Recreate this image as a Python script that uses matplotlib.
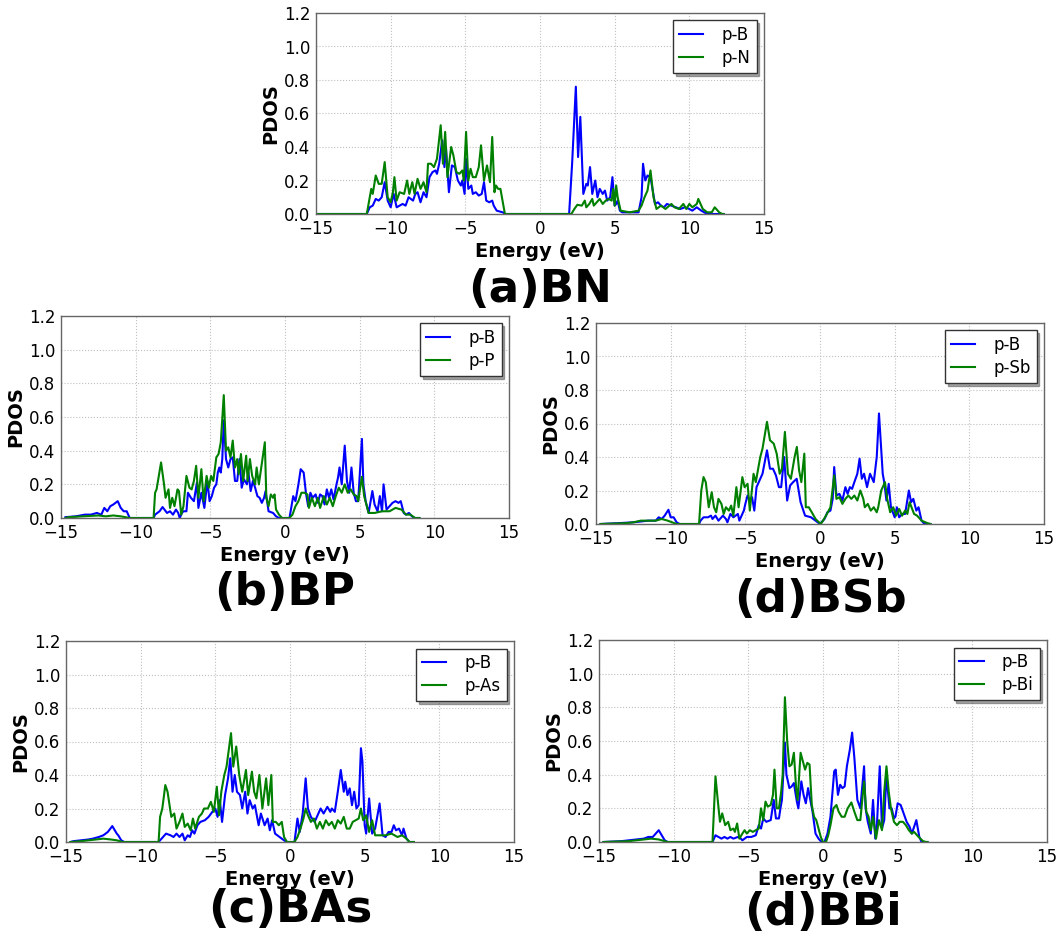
import matplotlib
matplotlib.use("Agg")
import matplotlib.pyplot as plt
import numpy as np

plt.rcParams['font.family'] = ['DejaVu Sans']

# ---------------- data ----------------
# (a) BN
bn_b_e = [-15, -11.6, -11.4, -11.2, -11.0, -10.8, -10.6, -10.4, -10.2, -10.0, -9.8, -9.6, -9.4, -9.2, -9.0, -8.8, -8.65, -8.5,
          -8.35, -8.2, -8.0, -7.8, -7.6, -7.4, -7.2, -7.0, -6.9, -6.75, -6.55, -6.4, -6.3, -6.1, -5.9, -5.7, -5.5, -5.3,
          -5.2, -5.05, -4.95, -4.8, -4.6, -4.5, -4.3, -4.1, -3.9, -3.75, -3.6, -3.4, -3.2, -3.1, -2.9, -2.5, -2.3,
          1.95, 2.15, 2.4, 2.55, 2.7, 2.9, 3.1, 3.2, 3.35, 3.5, 3.7, 3.85, 4.0, 4.2, 4.35, 4.5, 4.7, 4.85, 5.0, 5.1, 5.2, 5.35,
          5.5, 6.0, 6.6, 6.8, 6.9, 7.05, 7.2, 7.4, 7.7, 7.9, 8.1, 8.3, 8.5, 8.8, 9.1, 9.4, 9.7, 10.0, 10.2, 10.5, 10.8, 11.0, 11.2, 12.3]
bn_b_v = [0, 0, 0.04, 0.05, 0.09, 0.08, 0.1, 0.19, 0.08, 0.04, 0.12, 0.04, 0.05, 0.06, 0.05, 0.1, 0.09, 0.08,
          0.12, 0.13, 0.07, 0.13, 0.1, 0.22, 0.25, 0.26, 0.24, 0.3, 0.44, 0.28, 0.4, 0.13, 0.29, 0.28, 0.2, 0.17,
          0.2, 0.12, 0.33, 0.15, 0.17, 0.12, 0.13, 0.11, 0.12, 0.19, 0.08, 0.07, 0.08, 0.05, 0.02, 0.01, 0,
          0, 0.3, 0.76, 0.34, 0.58, 0.12, 0.18, 0.17, 0.28, 0.12, 0.2, 0.1, 0.15, 0.12, 0.14, 0.08, 0.1, 0.22, 0.05, 0.06, 0.08, 0.02,
          0.01, 0.01, 0.01, 0.1, 0.3, 0.2, 0.23, 0.22, 0.06, 0.07, 0.05, 0.04, 0.06, 0.05, 0.04, 0.03, 0.04, 0.03, 0.02, 0.04, 0.02, 0.01, 0, 0]
bn_n_e = [-15, -11.6, -11.3, -11.2, -11.0, -10.8, -10.6, -10.4, -10.2, -10.0, -9.85, -9.75, -9.6, -9.4, -9.1, -8.9, -8.75,
          -8.55, -8.4, -8.2, -8.0, -7.8, -7.6, -7.5, -7.3, -7.1, -6.9, -6.65, -6.5, -6.35, -6.2, -5.95, -5.8, -5.6, -5.4,
          -5.2, -5.1, -4.95, -4.8, -4.65, -4.5, -4.3, -4.1, -3.95, -3.75, -3.55, -3.35, -3.2, -3.05, -2.95, -2.8, -2.65, -2.35,
          2.1, 2.3, 2.5, 2.8, 3.0, 3.1, 3.3, 3.5, 3.6, 3.8, 4.0, 4.2, 4.4, 4.6, 4.8, 4.9, 5.0, 5.1, 5.2, 5.4, 6.0, 6.6,
          6.8, 7.0, 7.2, 7.4, 7.6, 7.8, 8.1, 8.4, 8.8, 9.0, 9.3, 9.6, 9.8, 10.0, 10.2, 10.5, 10.6, 10.9, 11.2, 11.5, 11.7, 12.0, 12.2, 12.3]
bn_n_v = [0, 0, 0.15, 0.12, 0.23, 0.18, 0.18, 0.31, 0.1, 0.07, 0.13, 0.22, 0.08, 0.13, 0.12, 0.2, 0.12,
          0.19, 0.12, 0.21, 0.15, 0.19, 0.13, 0.3, 0.3, 0.28, 0.33, 0.53, 0.3, 0.49, 0.22, 0.4, 0.35, 0.25, 0.24,
          0.26, 0.2, 0.49, 0.2, 0.27, 0.22, 0.22, 0.28, 0.41, 0.2, 0.29, 0.19, 0.46, 0.13, 0.17, 0.15, 0.15, 0,
          0, 0.03, 0.055, 0.05, 0.08, 0.04, 0.06, 0.09, 0.05, 0.07, 0.09, 0.06, 0.08, 0.09, 0.08, 0.15, 0.05, 0.17, 0.1, 0.02, 0.01, 0.02,
          0.05, 0.1, 0.14, 0.26, 0.1, 0.03, 0.05, 0.03, 0.06, 0.04, 0.03, 0.06, 0.03, 0.06, 0.04, 0.06, 0.09, 0.03, 0.01, 0.01, 0.04, 0.01, 0, 0]

# (b) BP
bp_b_e = [-14.7, -14.0, -13.4, -13.0, -12.6, -12.3, -12.1, -11.9, -11.7, -11.5, -11.2, -11.0, -10.8, -10.6, -10.4, -8.8,
          -8.7, -8.4, -8.2, -7.9, -7.7, -7.5, -7.3, -7.15, -7.05, -6.9, -6.8, -6.6, -6.5, -6.3, -6.1, -5.9, -5.8, -5.6, -5.4,
          -5.2, -5.05, -4.9, -4.75, -4.6, -4.5, -4.4, -4.3, -4.2, -4.1, -3.95, -3.8, -3.65, -3.5, -3.35, -3.2, -3.05, -2.9,
          -2.75, -2.55, -2.45, -2.3, -2.15, -2.0, -1.85, -1.7, -1.55, -1.4, -1.3, -1.1, -0.8, -0.6, -0.4, 0.3,
          0.55, 0.7, 0.9, 1.05, 1.25, 1.4, 1.55, 1.7, 1.85, 2.05, 2.2, 2.35, 2.5, 2.65, 2.8, 2.95, 3.1, 3.25, 3.45, 3.55,
          3.65, 3.8, 4.0, 4.15, 4.3, 4.45, 4.6, 4.75, 4.9, 5.15, 5.25, 5.4, 5.6, 5.85, 6.0, 6.2, 6.35, 6.5, 6.6, 6.8,
          7.0, 7.2, 7.4, 7.6, 7.75, 7.95, 8.1, 8.3, 8.5, 8.7, 9.0]
bp_b_v = [0.005, 0.01, 0.02, 0.02, 0.03, 0.02, 0.06, 0.04, 0.07, 0.08, 0.1, 0.06, 0.04, 0.04, 0, 0,
          0.02, 0.04, 0.065, 0.03, 0.04, 0.02, 0.05, 0.03, 0.0, 0.03, 0.04, 0.04, 0.15, 0.12, 0.1, 0.21, 0.06, 0.15, 0.06,
          0.22, 0.1, 0.13, 0.18, 0.2, 0.27, 0.3, 0.27, 0.35, 0.58, 0.35, 0.3, 0.35, 0.36, 0.22, 0.22, 0.35, 0.18,
          0.23, 0.2, 0.27, 0.16, 0.22, 0.18, 0.13, 0.12, 0.09, 0.12, 0.16, 0.04, 0.03, 0.01, 0, 0,
          0.13, 0.1, 0.2, 0.29, 0.27, 0.15, 0.07, 0.15, 0.12, 0.14, 0.09, 0.14, 0.13, 0.08, 0.17, 0.12, 0.17, 0.11, 0.2, 0.24,
          0.3, 0.2, 0.43, 0.22, 0.15, 0.3, 0.15, 0.1, 0.1, 0.47, 0.2, 0.1, 0.03, 0.16, 0.08, 0.04, 0.13, 0.04, 0.2, 0.05,
          0.07, 0.09, 0.1, 0.09, 0.1, 0.03, 0.02, 0.03, 0.01, 0, 0]
bp_p_e = [-14.7, -14.5, -13.5, -12.5, -12.0, -11.5, -11.0, -10.7, -10.4, -8.8,
          -8.7, -8.6, -8.3, -8.1, -8.0, -7.8, -7.7, -7.55, -7.4, -7.2, -7.1, -6.95, -6.8, -6.6, -6.4, -6.25, -6.1, -5.95,
          -5.8, -5.6, -5.45, -5.25, -5.1, -4.95, -4.8, -4.6, -4.45, -4.3, -4.1, -3.95, -3.8, -3.65, -3.5, -3.35, -3.2,
          -3.1, -2.95, -2.8, -2.6, -2.5, -2.35, -2.2, -2.0, -1.9, -1.75, -1.35, -1.25, -1.1, -0.95, -0.8, -0.7, -0.6,
          -0.4, -0.2, 0.3, 0.5, 0.7, 0.9, 1.1, 1.3, 1.5, 1.6, 1.8, 2.0, 2.2, 2.35, 2.6, 2.8, 3.0, 3.2, 3.4, 3.6, 3.8,
          4.0, 4.2, 4.4, 4.6, 4.8, 4.9, 5.15, 5.3, 5.6, 6.0, 6.5, 7.0, 7.4, 7.8, 8.1, 8.4, 8.7, 9.0]
bp_p_v = [0.0, 0.005, 0.01, 0.015, 0.01, 0.015, 0.01, 0.005, 0, 0,
          0.15, 0.17, 0.33, 0.2, 0.12, 0.17, 0.06, 0.12, 0.07, 0.17, 0.16, 0.02, 0.07, 0.25, 0.18, 0.17, 0.22, 0.31,
          0.12, 0.29, 0.1, 0.25, 0.18, 0.25, 0.22, 0.36, 0.38, 0.45, 0.73, 0.4, 0.42, 0.36, 0.46, 0.3, 0.35,
          0.26, 0.38, 0.22, 0.37, 0.22, 0.35, 0.25, 0.2, 0.3, 0.2, 0.45, 0.12, 0.07, 0.14, 0.12, 0.14, 0.05,
          0.02, 0, 0, 0.02, 0.07, 0.1, 0.15, 0.15, 0.14, 0.06, 0.12, 0.07, 0.12, 0.06, 0.13, 0.08, 0.12, 0.07, 0.13, 0.18, 0.15,
          0.2, 0.15, 0.17, 0.14, 0.13, 0.1, 0.245, 0.13, 0.03, 0.03, 0.04, 0.04, 0.06, 0.05, 0.02, 0.02, 0, 0]

# (d) BSb
bsb_b_e = [-14.7, -13.5, -12.5, -11.5, -11.0, -10.8, -10.6, -10.4, -10.15, -10.0, -9.8, -9.6, -9.4, -8.1,
           -8.0, -7.8, -7.5, -7.3, -7.2, -7.0, -6.8, -6.5, -6.3, -6.2, -6.0, -5.8, -5.5, -5.4, -5.1, -5.0, -4.85,
           -4.7, -4.55, -4.4, -4.25, -4.0, -3.85, -3.55, -3.35, -3.15, -2.95, -2.75, -2.6, -2.4, -2.2, -2.0, -1.8,
           -1.56, -1.3, -1.0, -0.6, -0.3, 0.0, 0.3, 0.5, 0.7, 0.85, 0.95, 1.1, 1.3, 1.5, 1.7, 1.85, 2.0, 2.15, 2.3,
           2.5, 2.65, 2.8, 2.95, 3.15, 3.35, 3.6, 3.8, 3.95, 4.2, 4.3, 4.45, 4.6, 4.75, 5.0, 5.15, 5.3, 5.5, 5.7,
           5.95, 6.1, 6.25, 6.45, 6.6, 6.8, 7.0, 7.4]
bsb_b_v = [0.0, 0.005, 0.01, 0.02, 0.02, 0.04, 0.03, 0.05, 0.085, 0.04, 0.04, 0.01, 0, 0,
           0.02, 0.04, 0.04, 0.05, 0.03, 0.05, 0.02, 0.05, 0.03, 0.01, 0.06, 0.04, 0.06, 0.02, 0.08, 0.12, 0.17,
           0.14, 0.16, 0.08, 0.22, 0.27, 0.3, 0.44, 0.33, 0.33, 0.29, 0.22, 0.22, 0.4, 0.14, 0.23, 0.25,
           0.27, 0.13, 0.05, 0.04, 0.02, 0, 0.03, 0.07, 0.08, 0.15, 0.34, 0.17, 0.18, 0.14, 0.22, 0.18, 0.22, 0.21, 0.25,
           0.3, 0.39, 0.27, 0.3, 0.22, 0.3, 0.25, 0.4, 0.66, 0.3, 0.25, 0.14, 0.24, 0.1, 0.04, 0.1, 0.04, 0.06, 0.06,
           0.2, 0.13, 0.15, 0.08, 0.1, 0.02, 0, 0]
bsb_s_e = [-14.7, -13.0, -12.5, -12.0, -11.5, -11.0, -10.6, -10.2, -9.9, -9.6, -8.1,
           -7.95, -7.8, -7.65, -7.45, -7.25, -7.1, -6.95, -6.8, -6.6, -6.45, -6.3, -6.1, -5.95, -5.8, -5.6, -5.45,
           -5.2, -5.05, -4.85, -4.7, -4.45, -4.3, -4.0, -3.85, -3.55, -3.35, -3.1, -2.9, -2.7, -2.55, -2.35, -2.15,
           -1.95, -1.7, -1.55, -1.4, -1.25, -1.05, -0.95, -0.75, -0.55, -0.3, 0.05, 0.2, 0.4, 0.7, 0.95, 1.1, 1.3,
           1.5, 1.7, 1.9, 2.1, 2.3, 2.5, 2.7, 2.9, 3.0, 3.2, 3.4, 3.6, 3.8, 3.9, 4.1, 4.35, 4.5, 4.7, 4.9, 5.1, 5.3,
           5.5, 5.7, 5.85, 6.0, 6.3, 6.5, 6.8, 7.2, 7.4]
bsb_s_v = [0.0, 0.005, 0.01, 0.02, 0.02, 0.02, 0.03, 0.02, 0.01, 0, 0,
           0.2, 0.28, 0.25, 0.1, 0.19, 0.1, 0.07, 0.15, 0.12, 0.06, 0.1, 0.08, 0.11, 0.05, 0.22, 0.1,
           0.28, 0.22, 0.24, 0.08, 0.3, 0.25, 0.4, 0.45, 0.61, 0.5, 0.48, 0.42, 0.3, 0.33, 0.55, 0.3,
           0.27, 0.4, 0.46, 0.32, 0.25, 0.42, 0.1, 0.1, 0.07, 0.03, 0, 0.02, 0.05, 0.1, 0.29, 0.15, 0.16,
           0.12, 0.15, 0.17, 0.15, 0.17, 0.14, 0.2, 0.15, 0.1, 0.12, 0.08, 0.1, 0.07, 0.1, 0.2, 0.25, 0.15, 0.07, 0.1, 0.05, 0.09,
           0.05, 0.08, 0.06, 0.13, 0.06, 0.05, 0.02, 0.005, 0]

# (c) BAs
bas_b_e = [-14.7, -14.5, -14.0, -13.5, -13.2, -12.8, -12.5, -12.2, -11.9, -11.6, -11.5, -11.3, -11.1, -8.8,
           -8.5, -8.3, -8.0, -7.8, -7.6, -7.4, -7.2, -7.05, -6.85, -6.7, -6.55, -6.4, -6.2, -6.0, -5.7, -5.45, -5.2,
           -5.0, -4.85, -4.7, -4.55, -4.35, -4.15, -4.0, -3.85, -3.7, -3.55, -3.35, -3.2, -3.0, -2.85, -2.7, -2.5,
           -2.35, -2.1, -1.95, -1.7, -1.5, -1.35, -1.2, -1.0, -0.7, -0.4, -0.2, 0.3, 0.5, 0.65, 0.85, 1.05, 1.2, 1.4,
           1.65, 1.85, 2.05, 2.25, 2.5, 2.7, 2.8, 3.0, 3.2, 3.4, 3.6, 3.7, 3.85, 4.0, 4.15, 4.3, 4.45, 4.6, 4.75,
           4.85, 5.0, 5.1, 5.3, 5.5, 5.7, 6.0, 6.2, 6.4, 6.6, 6.8, 6.95, 7.1, 7.3, 7.5, 7.6, 7.8, 8.0, 8.3]
bas_b_v = [0.0, 0.005, 0.01, 0.015, 0.02, 0.03, 0.04, 0.06, 0.095, 0.05, 0.04, 0.01, 0, 0,
           0.03, 0.05, 0.04, 0.03, 0.05, 0.03, 0.05, 0.01, 0.04, 0.03, 0.07, 0.05, 0.1, 0.12, 0.13, 0.15, 0.18,
           0.2, 0.15, 0.25, 0.12, 0.28, 0.38, 0.5, 0.3, 0.4, 0.3, 0.28, 0.2, 0.3, 0.17, 0.25, 0.2,
           0.22, 0.1, 0.17, 0.1, 0.14, 0.07, 0.13, 0.05, 0.03, 0.01, 0, 0, 0.14, 0.06, 0.17, 0.38, 0.2, 0.15,
           0.12, 0.16, 0.2, 0.17, 0.21, 0.18, 0.2, 0.18, 0.3, 0.43, 0.3, 0.36, 0.28, 0.32, 0.22, 0.3, 0.2, 0.22, 0.56,
           0.48, 0.1, 0.05, 0.26, 0.05, 0.08, 0.23, 0.04, 0.03, 0.06, 0.06, 0.1, 0.07, 0.08, 0.04, 0.08, 0.02, 0, 0]
bas_a_e = [-14.7, -14.0, -13.5, -13.0, -12.5, -12.0, -11.6, -11.2, -8.8,
           -8.7, -8.55, -8.35, -8.2, -7.95, -7.75, -7.6, -7.4, -7.2, -7.05, -6.85, -6.65, -6.5, -6.35, -6.1, -5.9,
           -5.75, -5.5, -5.3, -5.1, -4.9, -4.75, -4.6, -4.4, -4.25, -3.95, -3.8, -3.6, -3.4, -3.2, -2.95, -2.8, -2.55,
           -2.4, -2.25, -2.05, -1.85, -1.6, -1.45, -1.25, -1.15, -0.95, -0.75, -0.55, -0.4, -0.2, 0.3, 0.5, 0.7, 0.9,
           1.05, 1.2, 1.4, 1.6, 1.8, 2.0, 2.2, 2.4, 2.6, 2.8, 3.0, 3.2, 3.4, 3.6, 3.8, 4.0, 4.2, 4.4, 4.6, 4.75, 4.9,
           5.1, 5.3, 5.5, 5.7, 6.0, 6.4, 6.8, 7.2, 7.5, 7.8, 8.0, 8.3]
bas_a_v = [0.0, 0.005, 0.01, 0.015, 0.02, 0.015, 0.01, 0, 0,
           0.15, 0.2, 0.34, 0.3, 0.15, 0.17, 0.08, 0.12, 0.17, 0.09, 0.11, 0.07, 0.14, 0.08, 0.15, 0.17,
           0.2, 0.2, 0.24, 0.18, 0.33, 0.16, 0.3, 0.4, 0.45, 0.65, 0.45, 0.57, 0.4, 0.3, 0.43, 0.28, 0.42,
           0.3, 0.26, 0.4, 0.2, 0.38, 0.22, 0.4, 0.12, 0.12, 0.1, 0.12, 0.03, 0, 0, 0.03, 0.08, 0.14,
           0.2, 0.16, 0.12, 0.14, 0.08, 0.12, 0.08, 0.13, 0.1, 0.12, 0.08, 0.13, 0.11, 0.15, 0.08, 0.08, 0.12, 0.13, 0.14, 0.2, 0.13,
           0.16, 0.06, 0.13, 0.04, 0.04, 0.04, 0.05, 0.03, 0.04, 0.02, 0, 0]

# (d) BBi
bbi_b_e = [-14.7, -13.5, -13.0, -12.5, -12.0, -11.7, -11.4, -11.2, -11.0, -10.8, -10.6, -10.4, -7.4,
           -7.2, -7.0, -6.8, -6.6, -6.4, -6.2, -6.0, -5.7, -5.5, -5.4, -5.1, -4.8, -4.5, -4.3, -4.15, -4.0, -3.8,
           -3.5, -3.3, -3.15, -2.95, -2.85, -2.75, -2.55, -2.45, -2.25, -2.1, -1.95, -1.75, -1.65, -1.45, -1.3,
           -1.15, -1.0, -0.85, -0.7, -0.5, -0.3, -0.1, 0.1, 0.3, 0.5, 0.75, 0.85, 1.0, 1.15, 1.3, 1.45, 1.6, 1.8,
           1.95, 2.1, 2.3, 2.5, 2.75, 2.85, 3.0, 3.2, 3.35, 3.5, 3.6, 3.8, 3.95, 4.1, 4.25, 4.45, 4.6, 4.75, 4.85,
           5.0, 5.2, 5.4, 5.6, 5.8, 5.95, 6.1, 6.25, 6.45, 6.6, 7.0]
bbi_b_v = [0.0, 0.005, 0.01, 0.015, 0.02, 0.03, 0.03, 0.05, 0.07, 0.04, 0.01, 0, 0,
           0.04, 0.03, 0.02, 0.03, 0.02, 0.03, 0.02, 0.03, 0.02, 0.01, 0.03, 0.03, 0.04, 0.1, 0.08, 0.14, 0.12,
           0.13, 0.25, 0.14, 0.14, 0.2, 0.25, 0.59, 0.4, 0.32, 0.33, 0.35, 0.24, 0.2, 0.36, 0.28,
           0.23, 0.32, 0.25, 0.18, 0.05, 0.02, 0, 0, 0.05, 0.15, 0.42, 0.43, 0.28, 0.34, 0.32, 0.33, 0.45, 0.55,
           0.65, 0.5, 0.25, 0.2, 0.45, 0.2, 0.12, 0.05, 0.25, 0.02, 0.08, 0.45, 0.08, 0.13, 0.4, 0.2, 0.2, 0.14, 0.15,
           0.23, 0.22, 0.17, 0.12, 0.09, 0.05, 0.09, 0.13, 0.03, 0, 0]
bbi_i_e = [-14.7, -13.0, -12.5, -12.0, -11.5, -11.0, -10.6, -10.4, -7.4,
           -7.2, -7.05, -6.9, -6.75, -6.55, -6.35, -6.2, -6.0, -5.9, -5.75, -5.6, -5.4, -5.25, -5.1, -4.9, -4.7,
           -4.5, -4.3, -4.15, -4.0, -3.85, -3.7, -3.5, -3.35, -3.25, -3.1, -2.95, -2.8, -2.7, -2.55, -2.4, -2.25,
           -2.1, -1.95, -1.8, -1.7, -1.5, -1.35, -1.2, -1.05, -0.9, -0.75, -0.6, -0.45, -0.3, -0.15, 0.0, 0.2, 0.35,
           0.5, 0.7, 0.9, 1.05, 1.25, 1.45, 1.65, 1.9, 2.1, 2.3, 2.5, 2.75, 2.9, 3.05, 3.2, 3.35, 3.55, 3.75, 3.95,
           4.1, 4.25, 4.4, 4.55, 4.75, 4.95, 5.15, 5.35, 5.55, 5.75, 5.95, 6.1, 6.4, 6.7, 6.9, 7.0]
bbi_i_v = [0.0, 0.005, 0.01, 0.015, 0.02, 0.015, 0.005, 0, 0,
           0.39, 0.25, 0.12, 0.17, 0.1, 0.12, 0.07, 0.08, 0.06, 0.11, 0.02, 0.05, 0.07, 0.05, 0.07, 0.06,
           0.07, 0.08, 0.2, 0.13, 0.24, 0.21, 0.22, 0.28, 0.43, 0.2, 0.2, 0.3, 0.4, 0.86, 0.6, 0.45,
           0.46, 0.53, 0.32, 0.25, 0.53, 0.48, 0.43, 0.47, 0.46, 0.22, 0.15, 0.13, 0.08, 0.03, 0, 0, 0.04,
           0.1, 0.2, 0.22, 0.18, 0.15, 0.15, 0.2, 0.235, 0.18, 0.13, 0.13, 0.36, 0.18, 0.15, 0.07, 0.15, 0.02, 0.13, 0.07,
           0.3, 0.45, 0.3, 0.2, 0.12, 0.1, 0.12, 0.12, 0.1, 0.07, 0.05, 0.06, 0.03, 0.005, 0, 0]

panels = [
    dict(rect=(316, 13, 764, 214), title="(a)BN", base=302,
         e1=bn_b_e, v1=bn_b_v, l1="p-B", e2=bn_n_e, v2=bn_n_v, l2="p-N"),
    dict(rect=(61, 316, 509, 518), title="(b)BP", base=605,
         e1=bp_b_e, v1=bp_b_v, l1="p-B", e2=bp_p_e, v2=bp_p_v, l2="p-P"),
    dict(rect=(596, 323, 1044, 524), title="(d)BSb", base=612,
         e1=bsb_b_e, v1=bsb_b_v, l1="p-B", e2=bsb_s_e, v2=bsb_s_v, l2="p-Sb"),
    dict(rect=(66, 641, 514, 842), title="(c)BAs", base=922,
         e1=bas_b_e, v1=bas_b_v, l1="p-B", e2=bas_a_e, v2=bas_a_v, l2="p-As"),
    dict(rect=(599, 640, 1047, 842), title="(d)BBi", base=925,
         e1=bbi_b_e, v1=bbi_b_v, l1="p-B", e2=bbi_i_e, v2=bbi_i_v, l2="p-Bi"),
]

W, H = 1062, 938
fig = plt.figure(figsize=(W / 100, H / 100), dpi=100, facecolor='white')

for p in panels:
    x0, y0, x1, y1 = p['rect']
    ax = fig.add_axes([x0 / W, 1 - y1 / H, (x1 - x0) / W, (y1 - y0) / H])
    ax.plot(p['e1'], p['v1'], color='#0000ff', lw=1.5, label=p['l1'])
    ax.plot(p['e2'], p['v2'], color='#008000', lw=1.5, label=p['l2'])
    ax.set_xlim(-15, 15)
    ax.set_ylim(0, 1.2)
    ax.set_xticks([-15, -10, -5, 0, 5, 10, 15])
    ax.set_xticklabels(['\u221215', '\u221210', '\u22125', '0', '5', '10', '15'])
    ax.set_yticks([0, 0.2, 0.4, 0.6, 0.8, 1.0, 1.2])
    ax.set_yticklabels(['0.0', '0.2', '0.4', '0.6', '0.8', '1.0', '1.2'])
    ax.tick_params(labelsize=12, direction='in', length=0, pad=4)
    ax.grid(True, color='#c0c0c0', linestyle=':', linewidth=0.8)
    for s in ax.spines.values():
        s.set_color('#666666')
        s.set_linewidth(1.0)
    ax.set_xlabel('Energy (eV)', fontsize=14, fontweight='bold', labelpad=3)
    ax.set_ylabel('PDOS', fontsize=14, fontweight='bold', labelpad=3)
    leg = ax.legend(loc='upper right', fontsize=12, shadow=True, fancybox=False,
                    handlelength=1.45, handletextpad=1.1, borderpad=0.35, labelspacing=0.3,
                    borderaxespad=0.45)
    leg.get_frame().set_edgecolor('#333333')
    leg.get_frame().set_linewidth(1.0)
    fig.text((x0 + x1) / 2 / W, 1 - p['base'] / H, p['title'], fontsize=32.5, fontweight='bold',
             ha='center', va='baseline')

fig.savefig('out.png', dpi=100, facecolor='white')
